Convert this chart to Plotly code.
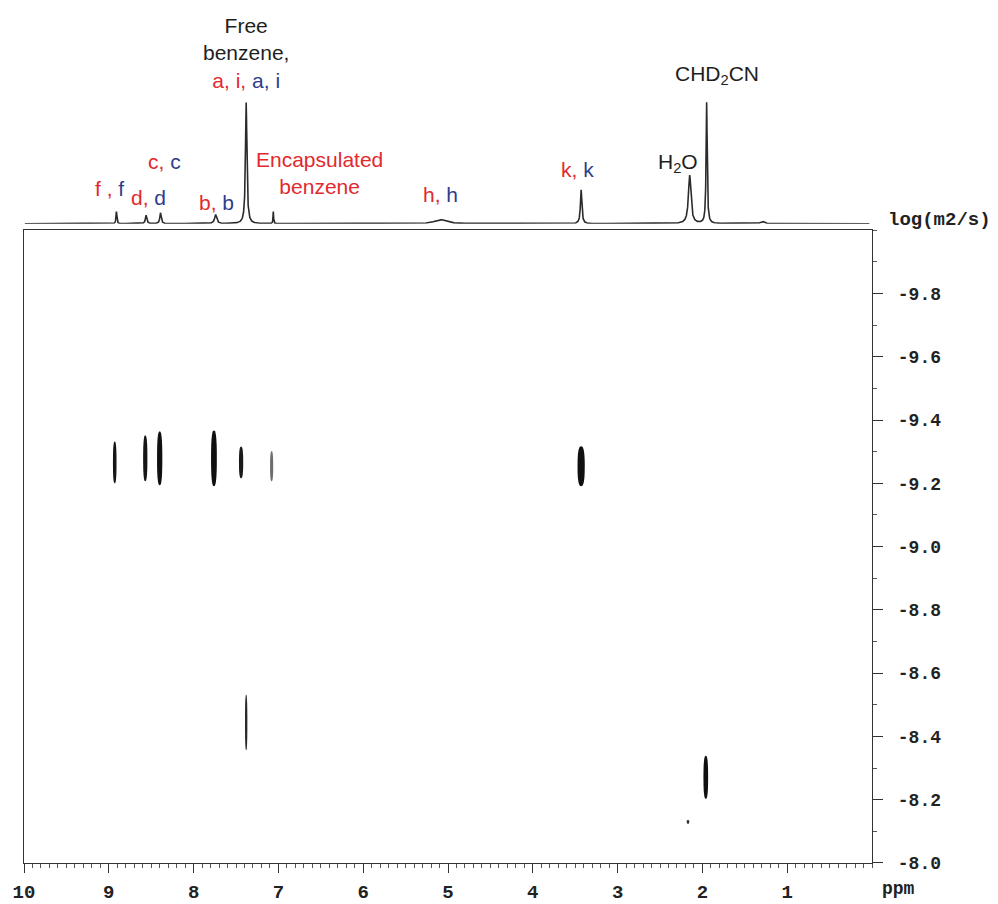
import numpy as np
import plotly.graph_objects as go

# ---- 1D projection (proton spectrum on top) ----
proj_ppm = [8.91, 8.56, 8.39, 7.74, 7.38, 7.06, 5.09, 3.43, 2.15, 1.95, 1.29]
proj_height = [0.10, 0.07, 0.09, 0.075, 1.00, 0.10, 0.035, 0.28, 0.40, 1.00, 0.02]
proj_fwhm = [0.012, 0.02, 0.02, 0.03, 0.02, 0.008, 0.16, 0.02, 0.035, 0.015, 0.05]

# ---- DOSY cross peaks: chemical shift, log D centre and log D spread ----
cross_ppm = [8.93, 8.57, 8.40, 7.76, 7.44, 7.08, 3.43, 7.38, 1.96, 2.17]
cross_logd = [-9.266, -9.279, -9.279, -9.279, -9.266, -9.254, -9.254, -8.444, -8.271, -8.13]
cross_logd_span = [0.132, 0.145, 0.170, 0.176, 0.100, 0.095, 0.126, 0.175, 0.136, 0.012]

# ---- axis ticks ----
ppm_ticks = [10, 9, 8, 7, 6, 5, 4, 3, 2, 1]
ppm_labels = ["10", "9", "8", "7", "6", "5", "4", "3", "2", "1"]
logd_ticks = [-9.8, -9.6, -9.4, -9.2, -9.0, -8.8, -8.6, -8.4, -8.2, -8.0]
logd_labels = ["-9.8", "-9.6", "-9.4", "-9.2", "-9.0", "-8.8", "-8.6", "-8.4", "-8.2", "-8.0"]

# contour blob widths (ppm) and shades
blob_width = [0.042, 0.050, 0.062, 0.068, 0.050, 0.037, 0.085, 0.028, 0.055, 0.030]
blob_color = ["#151515", "#151515", "#101010", "#101010", "#1a1a1a", "#6e6e6e",
              "#101010", "#2a2a2a", "#101010", "#333333"]

W, H = 998, 904
ML, MR, MT, MB = 24, 126, 0, 38
PLOT_W = W - ML - MR
PLOT_H = H - MT - MB


def py(ypx):
    """pixel row -> paper y"""
    return (H - MB - ypx) / PLOT_H


def px(xpx):
    """pixel column -> paper x"""
    return (xpx - ML) / PLOT_W


RED = "#e2292e"
BLUE = "#2c3d8c"
DARK = "#1e1e1e"
SANS = "Liberation Sans, Arial, sans-serif"
MONO = "Liberation Mono, Courier New, monospace"

# projection trace from the peak list (Lorentzian lines)
x_proj = np.arange(9.99, 0.03, -0.001)
y_proj = np.zeros_like(x_proj)
for c, h, w in zip(proj_ppm, proj_height, proj_fwhm):
    g = w / 2.0
    y_proj += h * g * g / ((x_proj - c) ** 2 + g * g)

fig = go.Figure()
fig.add_trace(go.Scatter(x=x_proj, y=y_proj, mode="lines", xaxis="x2", yaxis="y2",
                         line=dict(color="#2b2b2b", width=1.6), hoverinfo="skip",
                         showlegend=False))
# invisible anchor so the 2D axes render
fig.add_trace(go.Scatter(x=cross_ppm, y=cross_logd, mode="markers",
                         marker=dict(size=1, opacity=0), showlegend=False,
                         hoverinfo="skip"))


def blob_path(cx, cy, w, s, n=2.6, k=48):
    """rounded contour outline (superellipse) in data units"""
    t = np.linspace(0, 2 * np.pi, k, endpoint=False)
    ct, st = np.cos(t), np.sin(t)
    xs = cx + (w / 2) * np.sign(ct) * np.abs(ct) ** (2 / n)
    ys = cy + (s / 2) * np.sign(st) * np.abs(st) ** (2 / n)
    pts = " L ".join(f"{a:.5f},{b:.5f}" for a, b in zip(xs, ys))
    return f"M {pts} Z"


shapes = []
for c, d, s, w, col in zip(cross_ppm, cross_logd, cross_logd_span, blob_width, blob_color):
    shapes.append(dict(type="path", xref="x", yref="y", path=blob_path(c, d, w, s),
                       fillcolor=col, line=dict(width=0), layer="above"))

y_split = py(231)
spec_base = py(224.5)
spec_unit_px = 121.5
spec_range_top = 224.5 / spec_unit_px

fig.update_layout(
    width=W, height=H, margin=dict(l=ML, r=MR, t=MT, b=MB),
    paper_bgcolor="white", plot_bgcolor="white",
    shapes=shapes,
    xaxis=dict(domain=[0, 1], range=[10, 0], anchor="y",
               tickvals=ppm_ticks, ticktext=ppm_labels,
               ticks="outside", ticklen=9, tickwidth=1.3, tickcolor="#333",
               minor=dict(dtick=0.1, tick0=0, ticks="outside", ticklen=4,
                          tickcolor="#555", tickwidth=1),
               showline=True, linecolor="#333", linewidth=1.4, mirror=True,
               showgrid=False, zeroline=False,
               tickfont=dict(family=MONO, size=19, color="#222", weight="bold"),
               ticklabelstandoff=2),
    yaxis=dict(domain=[0, y_split], range=[-8.0, -10.0], side="right", anchor="x",
               tickvals=logd_ticks, ticktext=logd_labels,
               ticks="outside", ticklen=10, tickwidth=1.3, tickcolor="#333",
               minor=dict(dtick=0.1, tick0=0, ticks="outside", ticklen=4,
                          tickcolor="#555", tickwidth=1),
               showline=True, linecolor="#333", linewidth=1.4, mirror=True,
               showgrid=False, zeroline=False,
               tickfont=dict(family=MONO, size=18, color="#222", weight="bold"),
               ticklabelstandoff=11),
    xaxis2=dict(domain=[0, 1], range=[10, 0], anchor="y2", visible=False),
    yaxis2=dict(domain=[spec_base, 1], range=[0, spec_range_top], anchor="x2",
                visible=False),
)


def red(t):
    return f'<span style="color:{RED}">{t}</span>'


def blue(t):
    return f'<span style="color:{BLUE}">{t}</span>'


labels = [
    # (x ppm, y px, text, colour)
    (7.38, 53, "Free<br>benzene,<br>" + red("a, i,") + " " + blue("a, i"), DARK),
    (8.34, 162, red("c,") + " " + blue("c"), DARK),
    (8.99, 189, red("f ,") + " " + blue("f"), DARK),
    (8.53, 198, red("d,") + " " + blue("d"), DARK),
    (7.73, 203, red("b,") + " " + blue("b"), DARK),
    (6.51, 174, "Encapsulated<br>benzene", RED),
    (5.09, 195, red("h,") + " " + blue("h"), DARK),
    (3.47, 170, red("k,") + " " + blue("k"), DARK),
    (2.29, 164, "H<sub>2</sub>O", DARK),
    (1.83, 75, "CHD<sub>2</sub>CN", DARK),
]
annotations = []
for x, y, t, col in labels:
    annotations.append(dict(x=x, xref="x", y=py(y), yref="paper", text=t,
                            showarrow=False, xanchor="center", yanchor="middle",
                            font=dict(family=SANS, size=21, color=col)))

annotations.append(dict(x=px(886), xref="paper", y=py(221), yref="paper",
                        text="log(m2/s)", showarrow=False, xanchor="left",
                        yanchor="middle",
                        font=dict(family=MONO, size=19, color="#222", weight="bold")))
annotations.append(dict(x=px(880), xref="paper", y=py(892), yref="paper",
                        text="ppm", showarrow=False, xanchor="left",
                        yanchor="middle",
                        font=dict(family=MONO, size=18, color="#222", weight="bold")))
fig.update_layout(annotations=annotations)

fig.write_html("out.html")
